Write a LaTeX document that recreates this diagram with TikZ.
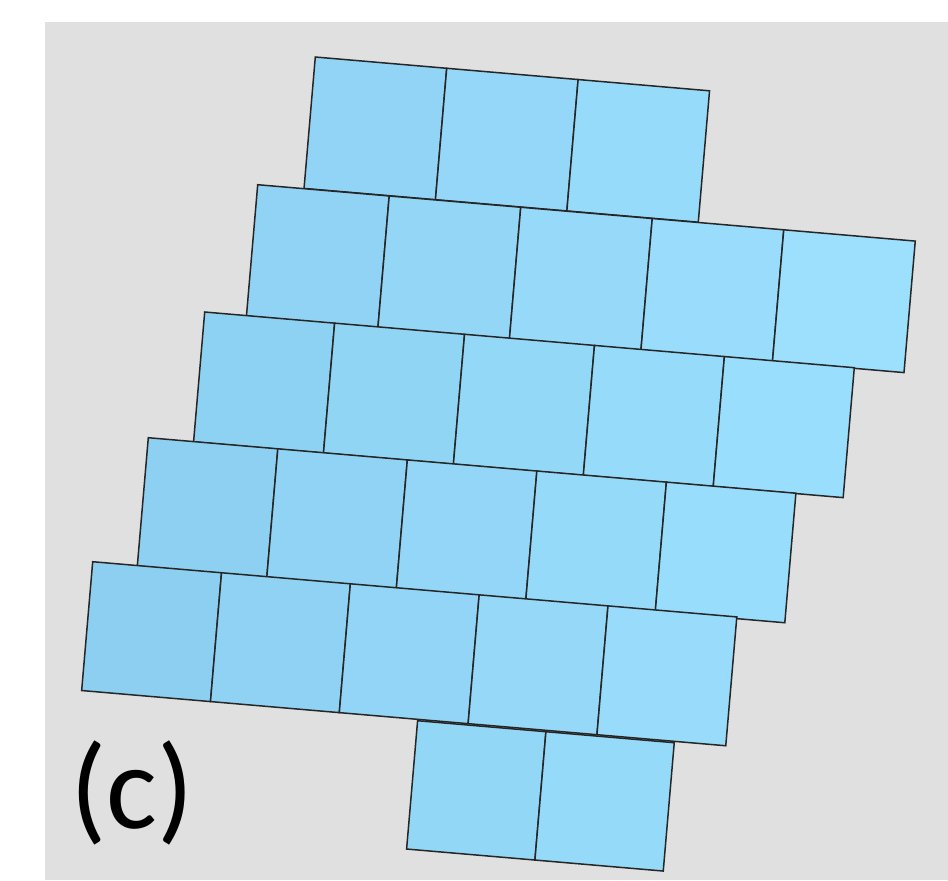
\documentclass[tikz,border=0pt]{standalone}
\usepackage{fontspec}
\newfontfamily\labelfont{Carlito}
\definecolor{bggray}{RGB}{224,224,224}
\definecolor{tiledark}{RGB}{140,207,241}
\definecolor{tilelight}{RGB}{156,224,254}
\begin{document}
\begin{tikzpicture}[x=0.5pt,y=-0.5pt]

  % parameters
  \def\ang{4.9}   % tilt of the tiles (deg)

  % page and grey panel
  \useasboundingbox (0,0) rectangle (948,880);
  \fill[bggray] (45,22) rectangle (948,880);

  % rows of tiles: start x / start y / count / side
  \foreach \xs/\ys/\n/\side in {315.3/57/3/131.9, 257.7/184.7/5/132.0,
                               204.7/312/5/130.4, 148.3/437.7/5/130.0,
                               92.7/561.7/5/129.3, 417.6/720.7/2/128.8} {
    \foreach \k in {1,...,\n} {
      \pgfmathsetmacro\xa{\xs+(\k-1)*\side*cos(\ang)}
      \pgfmathsetmacro\ya{\ys+(\k-1)*\side*sin(\ang)}
      \pgfmathtruncatemacro\mix{max(0,min(100,(\xa+0.5*\side-160)/7))}
      \draw[draw=black!85, line width=0.75pt, fill=tilelight!\mix!tiledark]
        (\xa,\ya) -- ++({\side*cos(\ang)},{\side*sin(\ang)})
        -- ++({-\side*sin(\ang)},{\side*cos(\ang)})
        -- ++({-\side*cos(\ang)},{-\side*sin(\ang)}) -- cycle;
    }
  }

  % panel label
  \node[anchor=base west, inner sep=0pt, font=\labelfont\fontsize{60}{66}\selectfont]
    (lbl) at (70,828) {(c)};

\end{tikzpicture}
\end{document}
